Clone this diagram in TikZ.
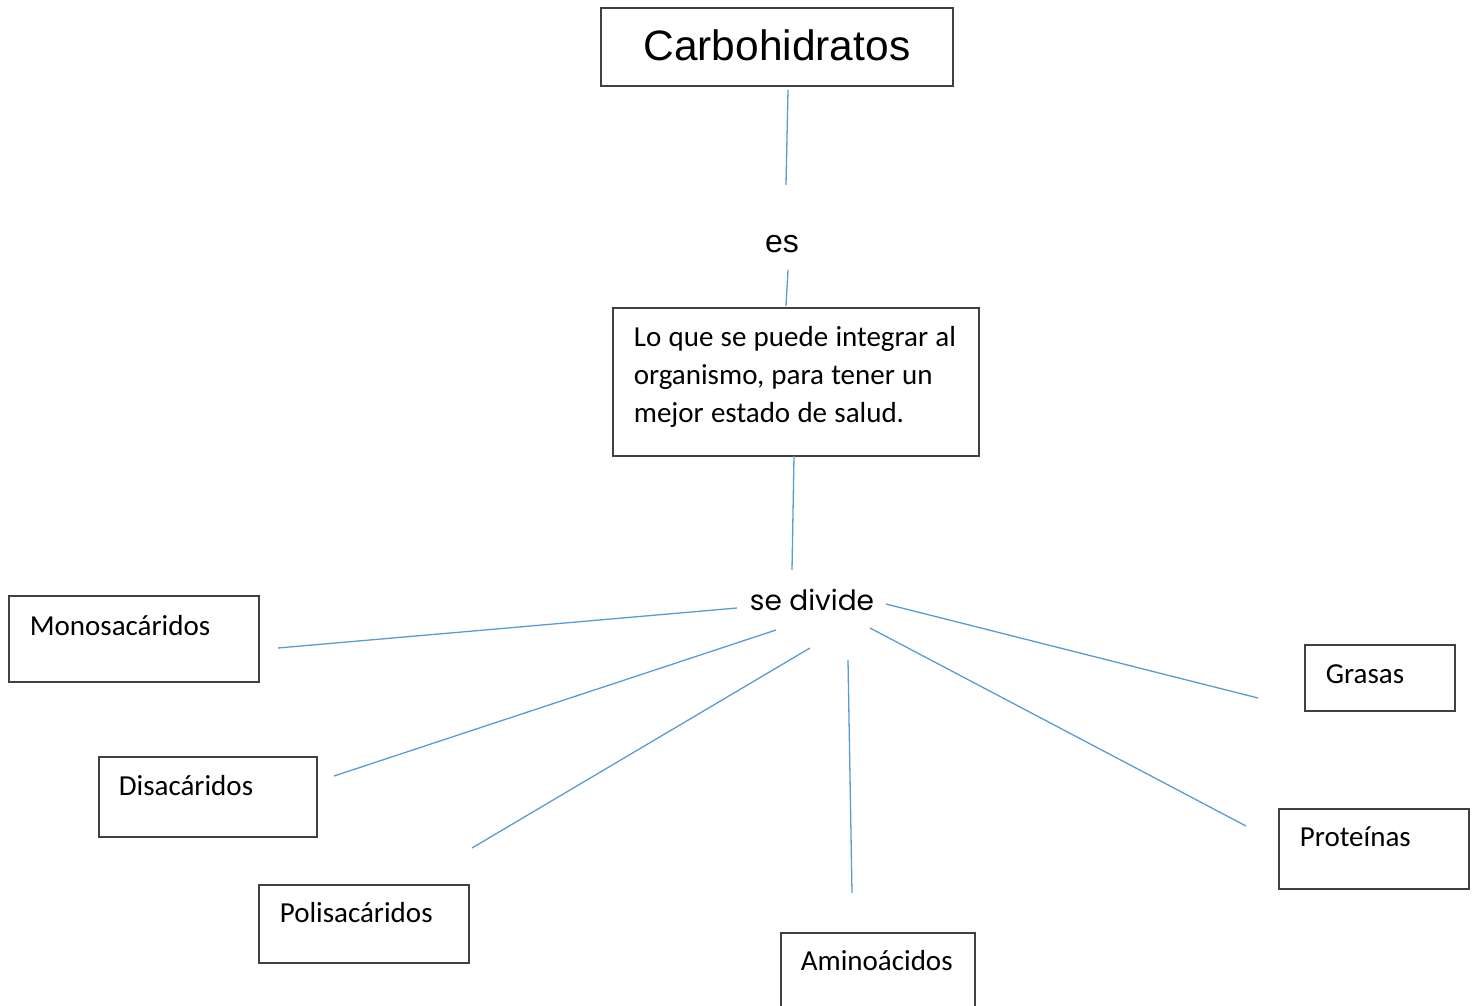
\documentclass[tikz,border=0pt]{standalone}
\usepackage{fontspec}
\setmainfont{Carlito}
\newfontfamily\arialfont{Liberation Sans}
\newfontfamily\gothicfont{Poppins}
\usetikzlibrary{positioning}
\definecolor{linkblue}{RGB}{91,155,213}
\definecolor{boxgray}{RGB}{64,64,64}
\newcommand{\tightspace}{\spaceskip=0.25em\relax}
\tikzstyle{concept} = [draw=boxgray, line width=1.7pt, anchor=north west, inner ysep=0pt, align=left, font=\fontsize{29}{38}\selectfont]
\tikzstyle{link} = [draw=linkblue, line width=1.3pt]

\begin{document}
\begin{tikzpicture}[x=1pt, y=-1pt]
	\useasboundingbox (0,0) rectangle (1476,1006);
	\node[concept, align=center, minimum width=352pt, text height=53pt, text depth=25pt, font=\arialfont\fontsize{42.5}{48}\selectfont] (carbo) at (600,7) {Carbohidratos};
	\node[anchor=base, inner sep=0pt, font=\arialfont\fontsize{32}{38}\selectfont] (es) at (782,252) {es};
	\node[concept, text width=324pt, inner xsep=21pt, text height=39pt, text depth=109pt] (def) at (612,307) {\tightspace\mbox{Lo que se puede integrar al}\\\mbox{organismo, para tener un}\\\mbox{mejor estado de salud.}};
	\node[anchor=base, inner sep=0pt, font=\gothicfont\fontsize{28}{34}\selectfont] (divide) at (812,610) {se divide};
	\node[concept, text width=208pt, inner xsep=21pt, text height=40pt, text depth=46pt] (mono) at (8,595) {Monosacáridos};
	\node[concept, text width=178pt, inner xsep=20pt, text height=39pt, text depth=41pt] (di) at (98,756) {Disacáridos};
	\node[concept, text width=168pt, inner xsep=21pt, text height=38pt, text depth=40pt] (poli) at (258,884) {Polisacáridos};
	\node[concept, text width=154pt, inner xsep=20pt, text height=38pt, text depth=52pt] (amino) at (780,932) {Aminoácidos};
	\node[concept, text width=108pt, inner xsep=21pt, text height=39pt, text depth=27pt] (grasas) at (1304,644) {Grasas};
	\node[concept, text width=148pt, inner xsep=21pt, text height=38pt, text depth=42pt] (prot) at (1278,808) {Proteínas};

	% free ends of the connectors
	\coordinate (carbo-end) at (788,90);
	\coordinate (es-top) at (786,185);
	\coordinate (es-bot) at (788,270);
	\coordinate (def-top) at (786,306);
	\coordinate (def-bot) at (794,456);
	\coordinate (divide-top) at (792,570);
	\coordinate (d1) at (737,608);
	\coordinate (d2) at (776,630);
	\coordinate (d3) at (810,648);
	\coordinate (d4) at (848,660);
	\coordinate (d5) at (870,628);
	\coordinate (d6) at (886,604);
	\coordinate (mono-end) at (278,648);
	\coordinate (di-end) at (334,776);
	\coordinate (poli-end) at (472,848);
	\coordinate (amino-end) at (852,893);
	\coordinate (prot-end) at (1246,826);
	\coordinate (grasas-end) at (1258,698);

	\draw[link] (carbo-end) -- (es-top);
	\draw[link] (es-bot) -- (def-top);
	\draw[link] (def-bot) -- (divide-top);
	\draw[link] (d1) -- (mono-end);
	\draw[link] (d2) -- (di-end);
	\draw[link] (d3) -- (poli-end);
	\draw[link] (d4) -- (amino-end);
	\draw[link] (d5) -- (prot-end);
	\draw[link] (d6) -- (grasas-end);
\end{tikzpicture}
\end{document}
